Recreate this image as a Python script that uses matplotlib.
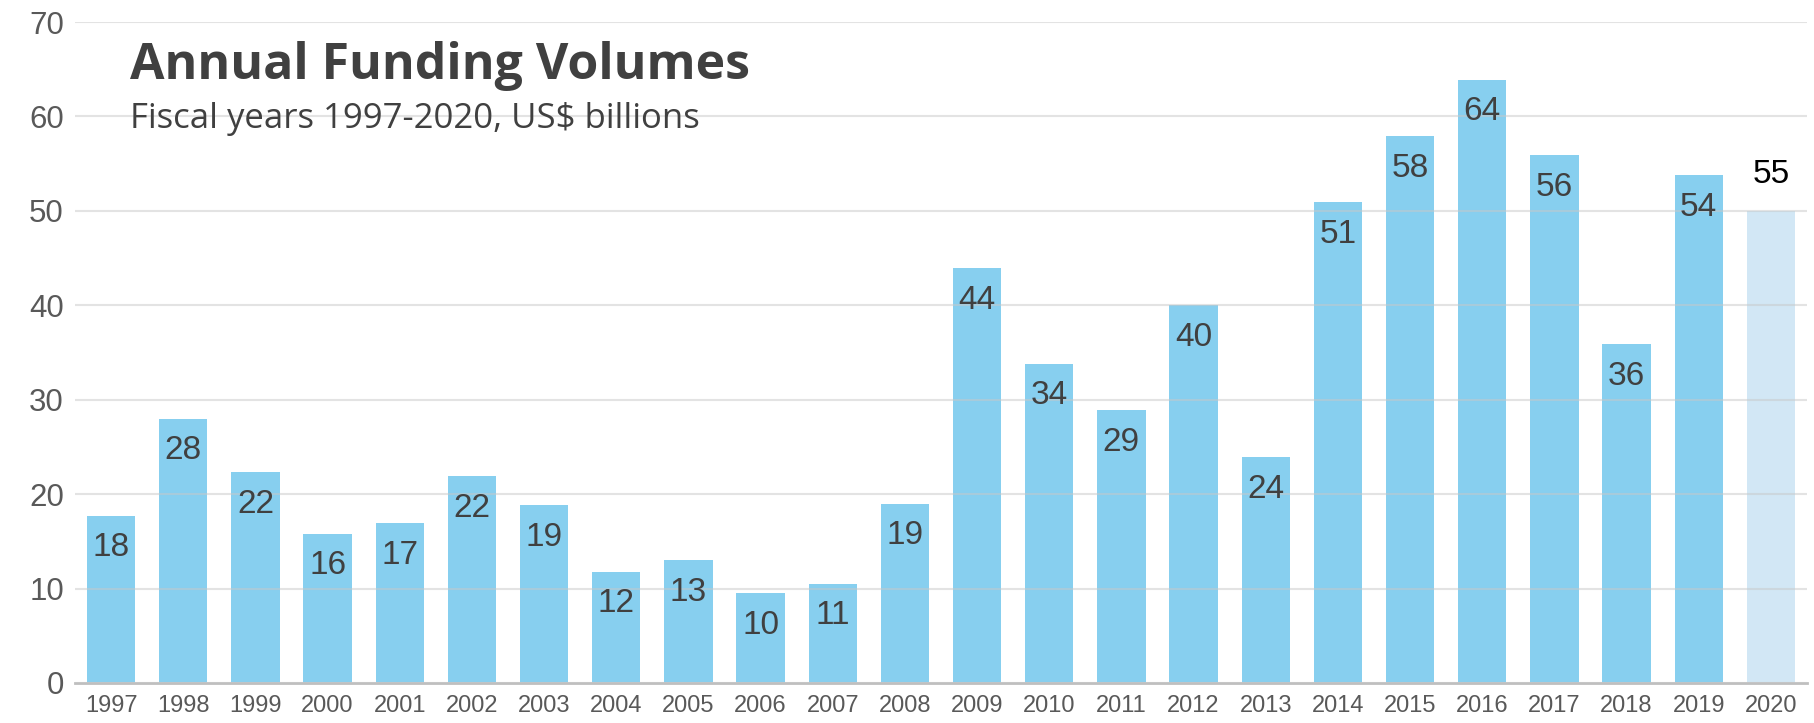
import matplotlib.pyplot as plt

years = [str(y) for y in range(1997, 2021)]
volumes = [17.7, 28.0, 22.3, 15.8, 16.9, 21.9, 18.8, 11.8, 13.0, 9.5, 10.5, 19.0,
           43.9, 33.8, 28.9, 40.0, 23.9, 50.9, 57.9, 63.9, 55.9, 35.9, 53.8, 50.0]
labels = ["18", "28", "22", "16", "17", "22", "19", "12", "13", "10", "11", "19",
          "44", "34", "29", "40", "24", "51", "58", "64", "56", "36", "54", "55"]

fig = plt.figure(figsize=(18.15, 7.23), dpi=100)
ax = fig.add_axes([75 / 1815, 40 / 723, 1732 / 1815, 661 / 723])

colors = ["#87cfef"] * (len(years) - 1) + ["#d2e7f5"]
x = range(len(years))
ax.bar(x, volumes, width=0.67, color=colors, zorder=1)

# gridlines over the bars, faint
ax.set_ylim(0, 70)
ax.set_xlim(-0.5, len(years) - 0.5)
ax.set_yticks(range(0, 71, 10))
ax.yaxis.grid(True, color="#c8c8c8", linewidth=1.5, alpha=0.5, zorder=2)
ax.set_axisbelow(False)

for s in ["top", "right", "left"]:
    ax.spines[s].set_visible(False)
ax.spines["bottom"].set_color("#bfbfbf")
ax.spines["bottom"].set_linewidth(2)

ax.set_xticks(list(x))
ax.set_xticklabels(years)
ax.tick_params(axis="x", length=0, labelsize=17, colors="#595959", pad=9)
ax.tick_params(axis="y", length=0, labelsize=22.5, colors="#595959", pad=8)
for lab in ax.get_xticklabels() + ax.get_yticklabels():
    lab.set_family("Liberation Sans")

for i, (v, lab) in enumerate(zip(volumes, labels)):
    if i == len(years) - 1:
        ax.text(i, v + 3.9, lab, ha="center", va="center", fontsize=24,
                color="black", family="Liberation Sans", zorder=3)
    else:
        ax.text(i, v - 3.4, lab, ha="center", va="center", fontsize=24,
                color="#404040", family="Liberation Sans", zorder=3)

fig.text(112 * 1.1575 / 1815, 1 - 57 * 1.1575 / 723, "Annual Funding Volumes",
         fontsize=36, fontweight="bold", color="#404040", family="Open Sans",
         va="center", ha="left")
fig.text(112 * 1.1575 / 1815, 1 - 103 * 1.1575 / 723, "Fiscal years 1997-2020, US$ billions",
         fontsize=25, color="#404040", family="Open Sans", va="center", ha="left")

fig.savefig("out.png", dpi=100)
